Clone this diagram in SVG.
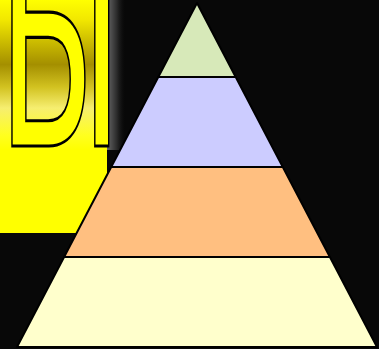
<svg xmlns="http://www.w3.org/2000/svg" width="379" height="349" viewBox="0 0 379 349">
<defs>
<linearGradient id="gold" gradientUnits="userSpaceOnUse" x1="0" y1="0" x2="0" y2="150">
<stop offset="0" stop-color="#FFFF00"/>
<stop offset="0.13" stop-color="#F2E800"/>
<stop offset="0.43" stop-color="#A48F00"/>
<stop offset="0.58" stop-color="#D2C220"/>
<stop offset="0.72" stop-color="#F6EE70"/>
<stop offset="0.9" stop-color="#FFFF20"/>
<stop offset="1" stop-color="#FFFF00"/>
</linearGradient>
<linearGradient id="shadow" x1="0" y1="0" x2="1" y2="0">
<stop offset="0" stop-color="#666666"/>
<stop offset="0.5" stop-color="#2A2A2A"/>
<stop offset="1" stop-color="#000000" stop-opacity="0"/>
</linearGradient>
<style>
.tier{stroke:#000;stroke-width:2;stroke-linejoin:round}
.glyph{font-family:"DejaVu Sans",sans-serif;fill:url(#gold);stroke:#000;stroke-width:1.5}
</style>
</defs>
<rect width="379" height="349" fill="#080808"/>
<g id="panel">
<rect x="107" y="0" width="20" height="150" fill="url(#shadow)"/>
<rect x="0" y="0" width="107" height="233" fill="#FFFF00"/>
<rect x="0" y="0" width="107" height="150" fill="url(#gold)"/>
<text class="glyph" transform="translate(8,146) scale(0.94,2.08)" x="-10.5" y="0" font-size="150">Ы</text>
</g>
<g id="pyramid">
<g id="tier4"><polygon class="tier" fill="#FFFFCC" points="64.1,257 329.9,257 377,347 17,347"/></g>
<g id="tier3"><polygon class="tier" fill="#FFBF80" points="111.2,167 282.8,167 329.9,257 64.1,257"/></g>
<g id="tier2"><polygon class="tier" fill="#CCCCFF" points="158.3,77 235.7,77 282.8,167 111.2,167"/></g>
<g id="tier1"><polygon class="tier" fill="#D7E9B9" points="197,3 235.7,77 158.3,77"/></g>
</g>
<g id="connectors"/>
</svg>
